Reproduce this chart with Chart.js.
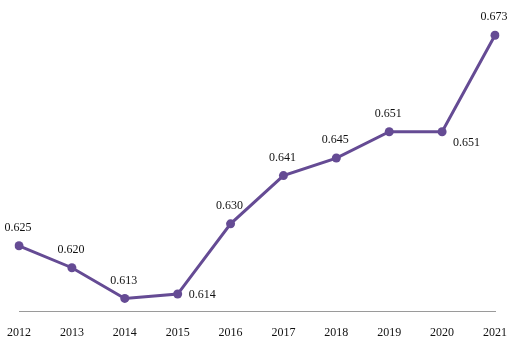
<!DOCTYPE html>
<html>
<head>
<meta charset="utf-8">
<script src="https://cdn.jsdelivr.net/npm/chart.js@4"></script>
<style>
html,body{margin:0;padding:0;background:#fff;}
#wrap{width:515px;height:341px;}
</style>
</head>
<body>
<div id="wrap"><canvas id="myChart"></canvas></div>
<script>
var years=["2012","2013","2014","2015","2016","2017","2018","2019","2020","2021"];
var values=[0.625,0.620,0.613,0.614,0.630,0.641,0.645,0.651,0.651,0.673];
var labelPlace=["top","top","top","right","top","top","top","top","right","top"]; // where value text goes

var lineColor='#654b94';

// draw the value text next to each point
var valueLabels={
    id:'valueLabels',
    afterDatasetsDraw:function(chart)
    {
        var ctx=chart.ctx;
        var meta=chart.getDatasetMeta(0);
        ctx.save();
        ctx.font='12px "Liberation Serif"';
        ctx.fillStyle='#111';
        for(var i=0;i<meta.data.length;i++)
        {
            var p=meta.data[i];
            var txt=values[i].toFixed(3);
            if(labelPlace[i]=="right")
            {
                ctx.textAlign='left';
                ctx.textBaseline='middle';
                ctx.fillText(txt,p.x+11,p.y+(i==8?11:1));
            }
            else
            {
                ctx.textAlign='center';
                ctx.textBaseline='middle';
                ctx.fillText(txt,p.x-1,p.y-18);
            }
        }
        ctx.restore();
    }
};

var ctx=document.getElementById("myChart");
var myChart=new Chart(ctx,{
    type:'line',
    data:{
        labels:years,
        datasets:[{
            data:values,
            borderColor:lineColor,
            backgroundColor:lineColor,
            borderWidth:3,
            pointRadius:4.5,
            pointBackgroundColor:lineColor,
            pointBorderWidth:0,
            tension:0
        }]
    },
    options:{
        responsive:true,
        maintainAspectRatio:false,
        animation:false,
        layout:{padding:{left:12,right:20,top:4,bottom:-6}},
        plugins:{legend:{display:false},tooltip:{enabled:false}},
        scales:{
            x:{
                offset:false,
                grid:{display:true,drawOnChartArea:false,drawTicks:true,tickLength:7,color:'rgba(0,0,0,0)'},
                border:{display:true,color:'#9a9a9a',width:1},
                ticks:{
                    color:'#111',
                    padding:7,
                    maxRotation:0,
                    autoSkip:false,
                    font:{family:'"Liberation Serif"',size:12}
                }
            },
            y:{
                display:false,
                min:0.61,
                max:0.68
            }
        }
    },
    plugins:[valueLabels]
});
</script>
</body>
</html>
